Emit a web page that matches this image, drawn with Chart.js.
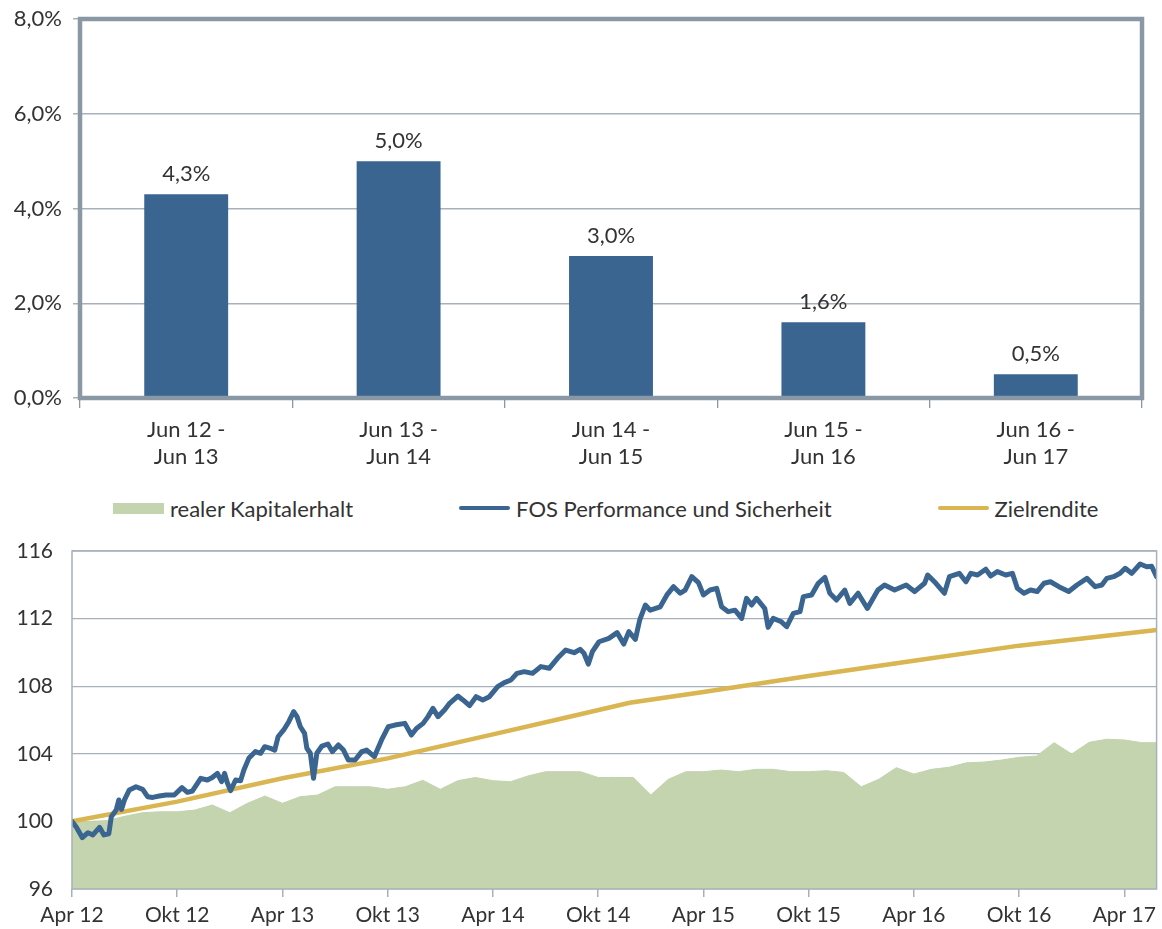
<!DOCTYPE html>
<html>
<head>
<meta charset="utf-8">
<script src="https://cdn.jsdelivr.net/npm/chart.js@4.4.1/dist/chart.umd.min.js"></script>
<style>
  html, body { margin: 0; padding: 0; background: #ffffff; width: 1162px; height: 929px; overflow: hidden; }
  #barChart { position: absolute; left: 0; top: 0; }
  #lineChart { position: absolute; left: 0; top: 530px; }
  #legend { position: absolute; top: 497px; left: 113px; height: 22px; display: flex; align-items: center; gap: 106px;
            font-family: Lato, "Open Sans", sans-serif; font-size: 22px; color: #333; white-space: nowrap; }
  .lg-item { display: flex; align-items: center; }
  .lg-sw { width: 51px; margin-right: 6px; }
</style>
</head>
<body>
<canvas id="barChart" width="1162" height="480"></canvas>
<div id="legend"></div>
<canvas id="lineChart" width="1162" height="399"></canvas>
<script>
// ---------- DATA ----------
const barCategories = [['Jun 12 -', 'Jun 13'], ['Jun 13 -', 'Jun 14'], ['Jun 14 -', 'Jun 15'], ['Jun 15 -', 'Jun 16'], ['Jun 16 -', 'Jun 17']];
const barValues = [4.3, 5.0, 3.0, 1.6, 0.5];

const seriesNames = ['realer Kapitalerhalt', 'FOS Performance und Sicherheit', 'Zielrendite'];
const xTickLabels = ['Apr 12', 'Okt 12', 'Apr 13', 'Okt 13', 'Apr 14', 'Okt 14', 'Apr 15', 'Okt 15', 'Apr 16', 'Okt 16', 'Apr 17'];

// months since April 2012
const kapMonths = [0, 1, 2, 3, 4, 5, 6, 7, 8, 9, 10, 11, 12, 13, 14, 15, 16, 17, 18, 19, 20, 21, 22, 23, 24, 25, 26, 27, 28, 29, 30,
  31, 32, 33, 34, 35, 36, 37, 38, 39, 40, 41, 42, 43, 44, 45, 46, 47, 48, 49, 50, 51, 52, 53, 54, 55, 56, 57, 58, 59, 60, 61, 61.84];
const kapValues = [100.0, 100.0, 100.05, 100.3, 100.51, 100.57, 100.57, 100.67, 100.97, 100.51, 101.07, 101.5, 101.07, 101.46,
  101.56, 102.05, 102.05, 102.05, 101.9, 102.05, 102.43, 101.9, 102.41, 102.6, 102.41, 102.35, 102.69, 102.94, 102.94, 102.94,
  102.6, 102.6, 102.6, 101.56, 102.49, 102.94, 102.94, 103.04, 102.94, 103.08, 103.08, 102.94, 102.94, 103.0, 102.9, 102.05,
  102.49, 103.18, 102.8, 103.08, 103.2, 103.47, 103.51, 103.63, 103.79, 103.87, 104.66, 103.99, 104.68, 104.86, 104.82, 104.66, 104.66];

const fosMonths = [0, 0.25, 0.59, 0.91, 1.19, 1.57, 1.82, 2.1, 2.24, 2.52, 2.67, 2.82, 2.99, 3.27, 3.65, 4.03, 4.31, 4.6, 4.98,
  5.36, 5.83, 6.27, 6.58, 6.87, 7.34, 7.72, 8.0, 8.29, 8.53, 8.7, 8.85, 9.04, 9.33, 9.61, 9.8, 10.08, 10.46, 10.75, 10.99,
  11.32, 11.56, 11.75, 12.07, 12.36, 12.64, 12.83, 13.02, 13.26, 13.39, 13.59, 13.77, 13.96, 14.25, 14.59, 14.85, 15.19, 15.48,
  15.76, 16.14, 16.52, 16.8, 17.24, 17.65, 18.03, 18.41, 18.98, 19.35, 19.64, 20.02, 20.3, 20.58, 20.87, 21.25, 21.53, 22.0,
  22.29, 22.67, 23.04, 23.42, 23.8, 24.27, 24.65, 25.03, 25.37, 25.79, 26.26, 26.73, 27.21, 27.68, 28.15, 28.63, 28.97, 29.19,
  29.44, 29.67, 30.05, 30.61, 31.08, 31.46, 31.75, 32.12, 32.37, 32.69, 32.97, 33.54, 33.92, 34.3, 34.68, 34.96, 35.34, 35.72,
  36.0, 36.38, 36.76, 37.04, 37.42, 37.8, 38.18, 38.46, 38.75, 39.03, 39.5, 39.69, 39.98, 40.45, 40.75, 41.13, 41.51, 41.7,
  42.17, 42.55, 42.93, 43.21, 43.59, 44.06, 44.35, 44.82, 45.35, 45.95, 46.33, 46.9, 47.56, 48.04, 48.61, 48.79, 49.26, 49.74,
  50.03, 50.59, 50.97, 51.25, 51.63, 52.1, 52.38, 52.76, 53.24, 53.62, 53.9, 54.28, 54.65, 55.03, 55.42, 55.79, 56.27, 56.83,
  57.3, 57.87, 58.34, 58.72, 59.0, 59.39, 59.76, 60.05, 60.42, 60.9, 61.28, 61.56, 61.84];
const fosValues = [100.0, 99.65, 99.04, 99.33, 99.2, 99.65, 99.2, 99.27, 100.28, 100.67, 101.27, 100.71, 101.27, 101.86, 102.05,
  101.9, 101.46, 101.42, 101.5, 101.56, 101.56, 102.0, 101.72, 101.8, 102.55, 102.45, 102.6, 102.84, 102.35, 102.84, 102.3,
  101.82, 102.45, 102.41, 103.04, 103.73, 104.13, 104.03, 104.42, 104.32, 104.22, 105.01, 105.41, 105.9, 106.49, 106.2, 105.6,
  105.21, 104.33, 104.03, 102.55, 104.03, 104.46, 104.58, 104.13, 104.52, 104.22, 103.63, 103.63, 104.13, 104.22, 103.83,
  104.82, 105.6, 105.7, 105.8, 105.11, 105.5, 105.8, 106.2, 106.69, 106.2, 106.6, 106.99, 107.42, 107.19, 106.85, 107.38,
  107.19, 107.38, 107.97, 108.21, 108.37, 108.76, 108.86, 108.76, 109.16, 109.06, 109.65, 110.14, 109.98, 110.18, 109.95,
  109.31, 110.04, 110.63, 110.83, 111.17, 110.49, 111.23, 110.77, 111.92, 112.8, 112.5, 112.7, 113.4, 113.89, 113.5, 113.69,
  114.48, 114.13, 113.4, 113.69, 113.79, 112.7, 112.41, 112.5, 112.01, 113.2, 112.8, 113.2, 112.6, 111.48, 112.01, 111.81,
  111.52, 112.31, 112.41, 113.3, 113.4, 114.09, 114.44, 113.5, 113.1, 113.69, 112.9, 113.5, 112.6, 113.69, 113.99, 113.69,
  113.99, 113.6, 114.09, 114.58, 114.09, 113.5, 114.48, 114.68, 114.18, 114.68, 114.58, 114.92, 114.52, 114.78, 114.58,
  114.68, 113.79, 113.5, 113.69, 113.6, 114.09, 114.18, 113.89, 113.6, 113.99, 114.38, 113.89, 113.99, 114.38, 114.48,
  114.68, 114.98, 114.68, 115.23, 115.07, 115.1, 114.48];

const zielMonths = [0, 6, 12, 18, 24, 28, 31.8, 36, 42, 48, 54, 61.84];
const zielValues = [100.0, 101.17, 102.55, 103.73, 105.15, 106.1, 107.02, 107.66, 108.6, 109.5, 110.4, 111.33];

// ---------- HELPERS ----------
const FONT = 'Lato, "Open Sans", sans-serif';
const TEXT = '#333333';
const fmtPct = v => v.toFixed(1).replace('.', ',') + '%';
const toXY = (xs, ys) => xs.map((x, i) => ({ x: x, y: ys[i] }));
const fixY = w => s => { s.width = w; s.paddingTop = 0; s.paddingBottom = 0; };

const framePlugin = {
  id: 'frame',
  afterDatasetsDraw(chart, args, opts) {
    const { ctx, chartArea: a } = chart;
    ctx.save();
    ctx.strokeStyle = opts.color;
    ctx.lineWidth = opts.width;
    ctx.strokeRect(a.left, a.top, a.right - a.left, a.bottom - a.top);
    ctx.restore();
  }
};

const barLabelPlugin = {
  id: 'barLabels',
  afterDatasetsDraw(chart, args, opts) {
    const ctx = chart.ctx;
    chart.data.datasets.forEach((ds, di) => {
      chart.getDatasetMeta(di).data.forEach((bar, i) => {
        ctx.save();
        ctx.font = opts.font;
        ctx.fillStyle = opts.color;
        ctx.textAlign = 'center';
        ctx.textBaseline = 'middle';
        ctx.fillText(fmtPct(ds.data[i]), bar.x, bar.y - opts.offset);
        ctx.restore();
      });
    });
  }
};

// ---------- BAR CHART ----------
new Chart(document.getElementById('barChart'), {
  type: 'bar',
  data: {
    labels: barCategories,
    datasets: [{ data: barValues, backgroundColor: '#3A6591', barPercentage: 0.395, categoryPercentage: 1 }]
  },
  options: {
    responsive: false,
    animation: false,
    layout: { padding: { top: 19, right: 20, left: 0, bottom: 0 } },
    plugins: {
      legend: { display: false },
      tooltip: { enabled: false },
      frame: { color: '#8A98A5', width: 4.5 },
      barLabels: { font: '22px ' + FONT, color: TEXT, offset: 20 }
    },
    scales: {
      x: {
        grid: { offset: true, drawOnChartArea: false, tickLength: 10, color: '#8A98A5', lineWidth: 1.3 },
        border: { display: false },
        ticks: { font: { family: FONT, size: 22, lineHeight: 1.23 }, color: TEXT, padding: 8, maxRotation: 0, autoSkip: false },
        afterFit: s => { s.height = 82; }
      },
      y: {
        min: 0, max: 8,
        ticks: { stepSize: 2, callback: v => fmtPct(v), font: { family: FONT, size: 22 }, color: TEXT, padding: 11 },
        grid: { color: '#A8B1BA', lineWidth: 1.5, tickLength: 7 },
        border: { display: false },
        afterFit: fixY(80)
      }
    }
  },
  plugins: [framePlugin, barLabelPlugin]
});

// ---------- LINE / AREA CHART ----------
const lineChart = new Chart(document.getElementById('lineChart'), {
  type: 'line',
  data: {
    datasets: [
      { label: seriesNames[0], data: toXY(kapMonths, kapValues), fill: 'start', backgroundColor: '#C3D4AF',
        borderColor: '#C3D4AF', borderWidth: 1, pointRadius: 0, tension: 0, order: 3 },
      { label: seriesNames[1], data: toXY(fosMonths, fosValues), fill: false, borderColor: '#3A6591',
        borderWidth: 5, pointRadius: 0, tension: 0, order: 1, borderJoinStyle: 'round', borderCapStyle: 'round' },
      { label: seriesNames[2], data: toXY(zielMonths, zielValues), fill: false, borderColor: '#D9B651',
        borderWidth: 4.5, pointRadius: 0, tension: 0, order: 2 }
    ]
  },
  options: {
    responsive: false,
    animation: false,
    layout: { padding: { top: 21, right: 1, left: 0, bottom: 0 } },
    plugins: {
      legend: { display: false },
      tooltip: { enabled: false },
      frame: { color: '#A7B1BB', width: 1.5 }
    },
    scales: {
      x: {
        type: 'linear', min: 0, max: 61.84,
        ticks: { stepSize: 6, includeBounds: false, autoSkip: false, maxRotation: 0,
                 callback: v => (xTickLabels[v / 6] !== undefined ? xTickLabels[v / 6] : ''),
                 font: { family: FONT, size: 21 }, color: TEXT, padding: 6 },
        grid: { drawOnChartArea: false, tickLength: 8, color: '#A7B1BB', lineWidth: 1.5 },
        border: { display: false },
        afterFit: s => { s.height = 40; }
      },
      y: {
        min: 96, max: 116,
        ticks: { stepSize: 4, font: { family: FONT, size: 21 }, color: TEXT, padding: 19 },
        grid: { drawTicks: false, color: '#A7B1BB', lineWidth: 1.3 },
        border: { display: false },
        afterFit: fixY(72)
      }
    }
  },
  plugins: [framePlugin]
});

// ---------- HTML LEGEND (from the chart's datasets) ----------
const legendEl = document.getElementById('legend');
lineChart.data.datasets.forEach(ds => {
  const item = document.createElement('div');
  item.className = 'lg-item';
  const sw = document.createElement('span');
  sw.className = 'lg-sw';
  if (ds.fill) {
    sw.style.height = '11px';
    sw.style.background = ds.backgroundColor;
  } else {
    sw.style.height = '4px';
    sw.style.borderRadius = '2px';
    sw.style.background = ds.borderColor;
  }
  const tx = document.createElement('span');
  tx.textContent = ds.label;
  item.appendChild(sw);
  item.appendChild(tx);
  legendEl.appendChild(item);
});
</script>
</body>
</html>
